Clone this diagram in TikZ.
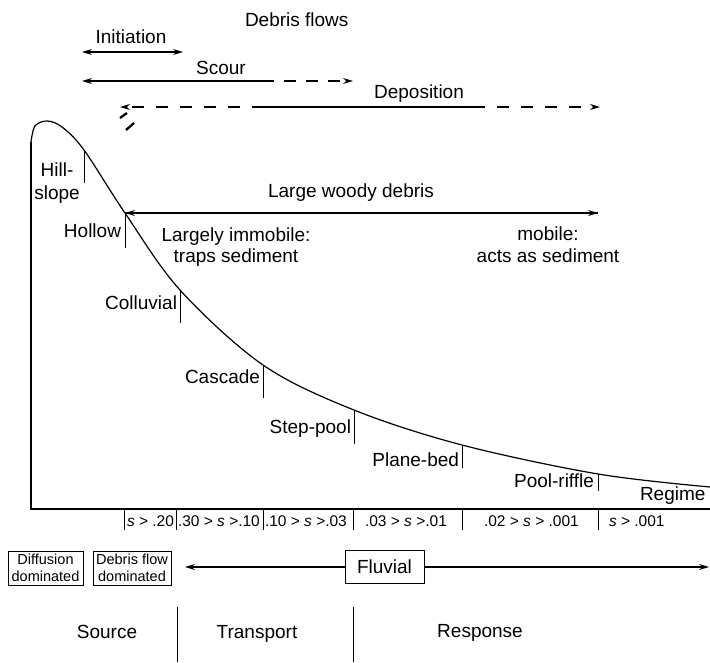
\documentclass[tikz,border=0pt]{standalone}
\usepackage{fontspec}
\setmainfont{Liberation Sans}
\usetikzlibrary{arrows.meta}
\begin{document}
\begin{tikzpicture}[x=1pt,y=-1pt,
  lab/.style={font=\fontsize{19}{21}\selectfont, inner sep=0pt, outer sep=0pt},
  sm/.style={font=\fontsize{15.5}{17}\selectfont, inner sep=0pt, outer sep=0pt},
  bx/.style={draw, line width=1pt, font=\fontsize{14.5}{17}\selectfont, align=center, inner sep=0pt, minimum height=34pt},
  ln/.style={line width=1.2pt},
  tipr/.style={-{Stealth[length=10pt,width=6pt]}},
  tipb/.style={{Stealth[length=10pt,width=6pt]}-{Stealth[length=10pt,width=6pt]}},
  dsh/.style={dash pattern=on 12pt off 12pt},
  tick/.style={line width=1pt}]
\useasboundingbox (0,0) rectangle (710,662);

% ---------- profile curve ----------
\coordinate (base0) at (31,509);
\coordinate (top0) at (31,142);
\coordinate (hs) at (84,150);
\coordinate (ho) at (125,213);
\coordinate (co) at (180,290);
\coordinate (ca) at (263,365);
\coordinate (sp) at (354,410);
\coordinate (pb) at (462,445);
\coordinate (pr) at (598,474);
\coordinate (endc) at (710,487);
\coordinate (baseR) at (710,509);

\draw[ln] (baseR) -- (base0) -- (top0);
\draw[ln] plot[smooth, tension=0.55] coordinates {(31,142) (35,126) (47,121) (62,127) (84,150) (125,213) (180,290) (263,365) (354,410) (462,445) (598,474) (710,487)};

% ticks on curve
\draw[tick] (hs) -- ++(0,33);
\draw[tick] (ho) -- ++(0,35);
\draw[tick] (co) -- ++(0,33);
\draw[tick] (ca) -- ++(0,33);
\draw[tick] (sp) -- ++(0,34);
\draw[tick] (pb) -- ++(0,23);
\draw[tick] (pr) -- ++(0,17);

% curve labels
\node[lab, anchor=base] (hill) at (57,176) {Hill-};
\node[lab, anchor=base] (slope) at (57,199) {slope};
\node[lab, anchor=base east] (hollow) at (121,237) {Hollow};
\node[lab, anchor=base east] (colluvial) at (177,309) {Colluvial};
\node[lab, anchor=base east] (cascade) at (260,383) {Cascade};
\node[lab, anchor=base east] (steppool) at (351,433) {Step-pool};
\node[lab, anchor=base east] (planebed) at (459,466) {Plane-bed};
\node[lab, anchor=base east] (poolriffle) at (594,487) {Pool-riffle};
\node[lab, anchor=base west] (regime) at (640,500) {Regime};

% ---------- top process arrows ----------
\node[lab, anchor=base west] (dflows) at (245,26) {Debris flows};
\node[lab, anchor=base] (init) at (131,43) {Initiation};
\coordinate (iL) at (82,52);
\coordinate (iR) at (183,52);
\draw[ln, tipb] (iL) -- (iR);

\node[lab, anchor=base] (scour) at (221,74) {Scour};
\coordinate (sL) at (82,81);
\coordinate (sM) at (262,81);
\coordinate (sR) at (353,81);
\draw[ln, {Stealth[length=10pt,width=6pt]}-] (sL) -- (sM);
\draw[ln, tipr, dash pattern=on 12pt off 10pt] (sM) -- (sR);

\node[lab, anchor=base] (depo) at (419,98) {Deposition};
\coordinate (dL) at (120,107);
\coordinate (dM1) at (264,107);
\coordinate (dM2) at (473,107);
\coordinate (dR) at (600,107);
\draw[ln, tipr, dsh] (dM1) -- (dL);
\draw[ln] (dM1) -- (dM2);
\draw[ln, tipr, dsh] (dM2) -- (dR);
\coordinate (m1a) at (120,118);
\coordinate (m1b) at (127,113);
\coordinate (m2a) at (126,130);
\coordinate (m2b) at (134,123);
\draw[line width=2.3pt] (m1a) -- (m1b);
\draw[line width=2.3pt] (m2a) -- (m2b);

% ---------- large woody debris ----------
\node[lab, anchor=base] (lwd) at (351,197) {Large woody debris};
\coordinate (wR) at (598,213);
\draw[ln, tipr] (wR) -- (ho);
\draw[ln, tipr] (ho) -- (wR);
\node[lab, anchor=base] (immob1) at (236,241) {Largely immobile:};
\node[lab, anchor=base] (immob2) at (236,262) {traps sediment};
\node[lab, anchor=base] (mob1) at (548,240) {mobile:};
\node[lab, anchor=base] (mob2) at (548,262) {acts as sediment};

% ---------- slope classes ----------
\foreach \xx [count=\i] in {124,176,263,353,462,598}
  \draw[tick] (\xx,509) -- (\xx,530);
\node[sm, anchor=base west] (s1) at (127,526) {\textit{s} > .20};
\node[sm, anchor=base west] (s2) at (178,526) {.30 > \textit{s} >.10};
\node[sm, anchor=base west] (s3) at (265,526) {.10 > \textit{s} >.03};
\node[sm, anchor=base west] (s4) at (365,526) {.03 > \textit{s} >.01};
\node[sm, anchor=base west] (s5) at (484,526) {.02 > \textit{s} > .001};
\node[sm, anchor=base west] (s6) at (609,526) {\textit{s} > .001};

% ---------- process domains ----------
\node[bx, minimum width=75pt] (diff) at (45.5,568) {Diffusion\\dominated};
\node[bx, minimum width=78pt] (dfd) at (132,568) {Debris flow\\dominated};
\node[draw, line width=1pt, lab, minimum width=79pt, minimum height=33pt] (fluv) at (384.5,567) {Fluvial};
\coordinate (fL) at (185,567);
\coordinate (fR) at (709,567);
\draw[ln, tipr] (fluv.west) -- (fL);
\draw[ln, tipr] (fluv.east) -- (fR);

% ---------- source / transport / response ----------
\coordinate (v1a) at (177,607);
\coordinate (v1b) at (177,662);
\coordinate (v2a) at (353,607);
\coordinate (v2b) at (353,662);
\draw[tick] (v1a) -- (v1b);
\draw[tick] (v2a) -- (v2b);
\node[lab, anchor=base] (source) at (107,638) {Source};
\node[lab, anchor=base] (transport) at (257,638) {Transport};
\node[lab, anchor=base] (response) at (480,637) {Response};
\end{tikzpicture}
\end{document}
